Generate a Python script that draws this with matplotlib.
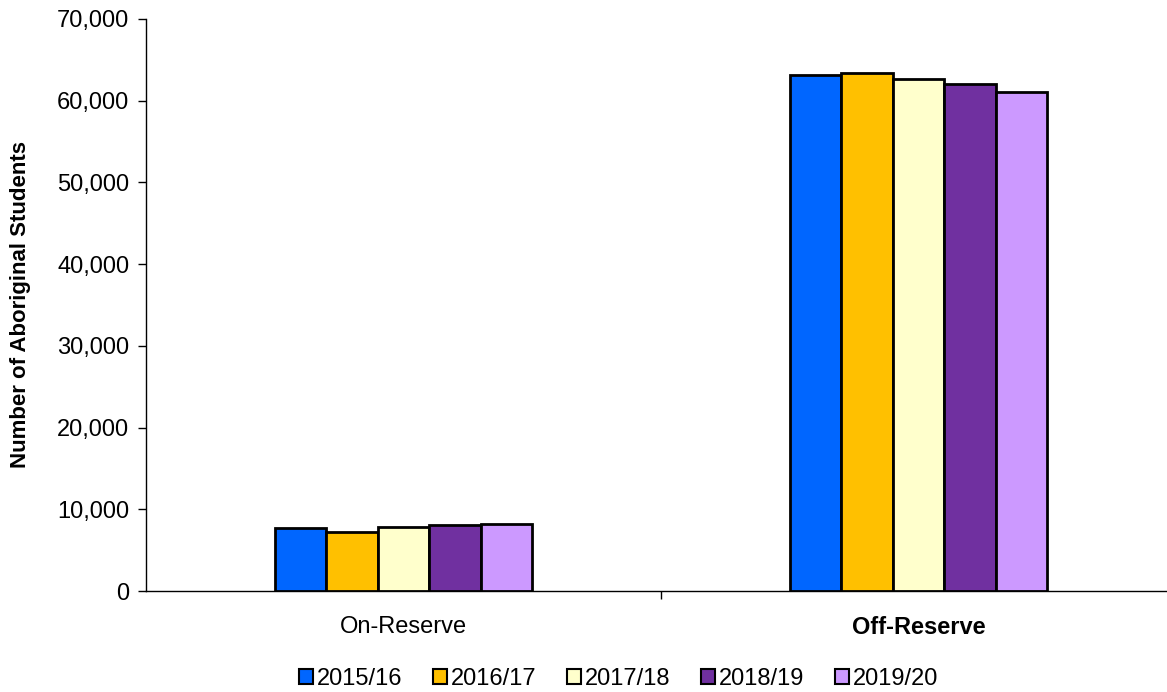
import numpy as np
import matplotlib.pyplot as plt
from matplotlib.ticker import FuncFormatter, FixedLocator

plt.rcParams['font.family'] = ['Liberation Sans', 'DejaVu Sans']

categories = ['On-Reserve', 'Off-Reserve']
years = ['2015/16', '2016/17', '2017/18', '2018/19', '2019/20']
values = {
    '2015/16': [7670, 63150],
    '2016/17': [7260, 63440],
    '2017/18': [7830, 62700],
    '2018/19': [8040, 62050],
    '2019/20': [8240, 61110],
}
colors = ['#0066FF', '#FFC000', '#FFFFCC', '#7030A0', '#CC99FF']

fig = plt.figure(figsize=(11.67, 6.92), dpi=100)
ax = fig.add_axes([146 / 1167, 1 - 591 / 692, (1176 - 146) / 1167, (591 - 19) / 692])

x = np.arange(len(categories))
width = 0.1
for i, (yr, c) in enumerate(zip(years, colors)):
    ax.bar(x + (i - 2) * width, values[yr], width, color=c,
           edgecolor='black', linewidth=2, label=yr, zorder=3)

ax.set_xlim(-0.5, 1.5)
ax.set_ylim(0, 70000)
ax.set_yticks(np.arange(0, 70001, 10000))
ax.yaxis.set_major_formatter(FuncFormatter(lambda v, p: f'{int(v):,}'))
ax.tick_params(axis='y', labelsize=17, length=6, width=1, pad=6)

ax.set_xticks(x)
ax.set_xticklabels(categories, fontsize=17)
ax.get_xticklabels()[1].set_fontweight('bold')
ax.tick_params(axis='x', which='major', length=0, pad=18)
ax.xaxis.set_minor_locator(FixedLocator([0.5, 1.5]))
ax.tick_params(axis='x', which='minor', length=6, width=1)

for s in ['top', 'right']:
    ax.spines[s].set_visible(False)
ax.spines['left'].set_linewidth(1)
ax.spines['bottom'].set_linewidth(1)

ax.set_ylabel('Number of Aboriginal Students', fontsize=16, fontweight='bold', labelpad=19)

leg = fig.legend(loc='lower center', bbox_to_anchor=(0.53, -0.028), ncol=5,
                 frameon=False, fontsize=17, handlelength=0.6, handleheight=0.6,
                 handletextpad=0.15, columnspacing=1.3)
for h in leg.legend_handles:
    h.set_linewidth(1.5)

fig.savefig('out.png', dpi=100)
